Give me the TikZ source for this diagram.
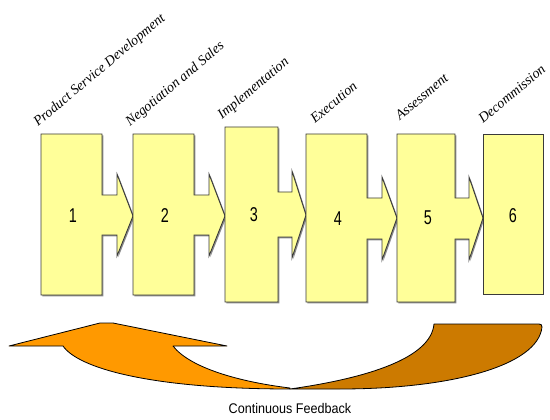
\documentclass[tikz,border=0pt]{standalone}
\usepackage{fontspec}
\setmainfont{Liberation Serif}
\newfontfamily\capfont{Liberation Sans}
\usetikzlibrary{calc}
\definecolor{stagefill}{HTML}{FFFF99}
\definecolor{stageline}{HTML}{3A3A3A}
\definecolor{loopfront}{HTML}{FF9900}
\definecolor{loopback}{HTML}{CC7A00}
\tikzset{
  stage/.style={fill=stagefill, draw=stageline, line width=0.9pt, line join=miter},
  stageshadow/.style={fill=black!45, draw=none, shift={(1.3,1.3)}},
  stagenum/.style={font=\capfont\fontsize{20}{20}\selectfont, xscale=0.72, inner sep=0pt},
  stagelabel/.style={font=\itshape\fontsize{14}{14}\selectfont, rotate=40, anchor=base west, inner sep=0pt},
  loopband/.style={draw=black, line width=0.8pt, line join=round},
}
\begin{document}
\begin{tikzpicture}[x=1pt,y=-1pt]
\useasboundingbox (0,0) rectangle (550,420);
\fill[white] (0,0) rectangle (550,420);

% the six stages; each passes on to the next through an arrow head
\def\stageone{(41,134) -- (102,134) -- (102,195) -- (117,195) -- (117,174) -- (133,216) -- (117,256) -- (117,235) -- (102,235) -- (102,295) -- (41,295) -- cycle}
\def\stagetwo{(133,134) -- (194,134) -- (194,195) -- (209,195) -- (209,174) -- (225,216) -- (209,256) -- (209,235) -- (194,235) -- (194,295) -- (133,295) -- cycle}
\def\stagethree{(225,127) -- (278,127) -- (278,192) -- (292,192) -- (292,171) -- (306,215) -- (292,258) -- (292,237) -- (278,237) -- (278,302) -- (225,302) -- cycle}
\def\stagefour{(306,134) -- (367,134) -- (367,198) -- (382,198) -- (382,177) -- (397,218) -- (382,260) -- (382,239) -- (367,239) -- (367,302) -- (306,302) -- cycle}
\def\stagefive{(397,134) -- (455,134) -- (455,198) -- (469,198) -- (469,177) -- (483,218) -- (469,260) -- (469,239) -- (455,239) -- (455,302) -- (397,302) -- cycle}
\def\stagesix{(483,134) rectangle (543,294)}

\foreach \s in {\stageone,\stagetwo,\stagethree,\stagefour,\stagefive,\stagesix}{
  \path[stageshadow] \s;
}
\foreach \s in {\stageone,\stagetwo,\stagethree,\stagefour,\stagefive,\stagesix}{
  \path[stage] \s;
}

% stage numbers
\node[stagenum] (n1) at (73,216) {1};
\node[stagenum] (n2) at (165,216) {2};
\node[stagenum] (n3) at (254,215) {3};
\node[stagenum] (n4) at (338,219) {4};
\node[stagenum] (n5) at (428,218) {5};
\node[stagenum] (n6) at (513,216) {6};

% slanted stage titles
\node[stagelabel] (l1) at (38,127) {Product Service Development};
\node[stagelabel] (l2) at (130,127) {Negotiation and Sales};
\node[stagelabel] (l3) at (222,120) {Implementation};
\node[stagelabel] (l4) at (315,124) {Execution};
\node[stagelabel] (l5) at (400,121) {Assessment};
\node[stagelabel] (l6) at (483,124) {Decommission};

% feedback loop: darker rising tail on the right
\path[loopband, fill=loopback]
  (290,389) .. controls (368,378) and (431,358) .. (434,324)
  -- (539,324) .. controls (541,324) and (542,325) .. (542,327)
  .. controls (538,366) and (450,389) .. (340,389) -- cycle;
% lighter returning head on the left
\path[loopband, fill=loopfront]
  (9,346) -- (100,323) -- (113,323) -- (227,346) -- (173,346)
  .. controls (190,368) and (240,382) .. (290,388)
  -- (290,389)
  .. controls (150,389) and (78,368) .. (63,346) -- cycle;

\node[font=\capfont\fontsize{14}{14}\selectfont, xscale=0.9, inner sep=0pt] (fb) at (290,408) {Continuous Feedback};
\end{tikzpicture}
\end{document}
